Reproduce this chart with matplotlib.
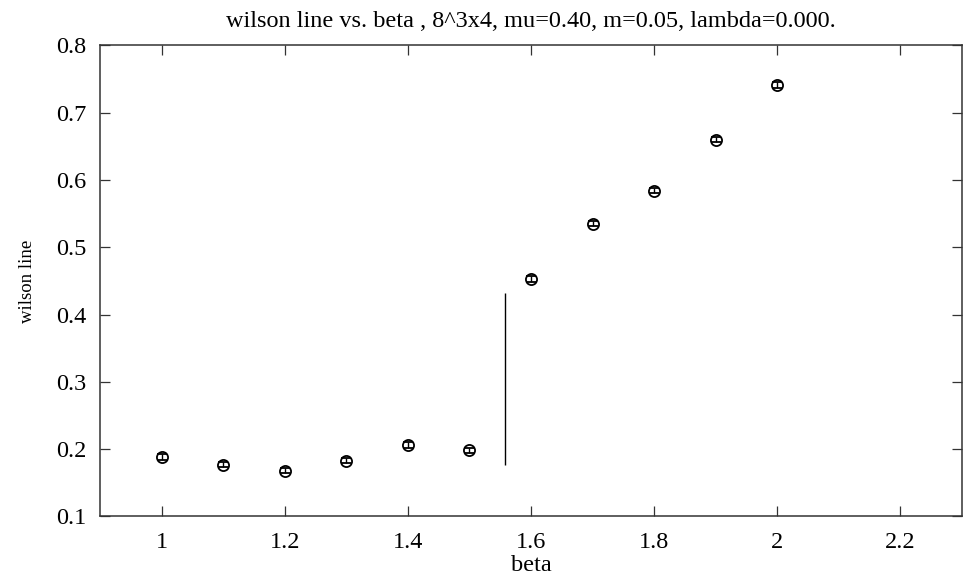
import matplotlib.pyplot as plt
from matplotlib.ticker import FormatStrFormatter, FuncFormatter

plt.rcParams['font.family'] = ['Liberation Serif', 'DejaVu Serif']

# data
beta = [1.0, 1.1, 1.2, 1.3, 1.4, 1.5, 1.6, 1.7, 1.8, 1.9, 2.0]
wilson = [0.188, 0.177, 0.168, 0.183, 0.206, 0.198, 0.453, 0.535, 0.584, 0.660, 0.741]
wilson_err = [0.004, 0.004, 0.004, 0.004, 0.004, 0.004, 0.004, 0.004, 0.004, 0.004, 0.004]

# the odd point near beta=1.55 (only its error bar shows)
beta_mid = [1.557]
wilson_mid = [0.304]
wilson_mid_err = [0.128]

fig = plt.figure(figsize=(9.66, 5.83), dpi=100)
ax = fig.add_axes([0.1035, 0.1143, 0.8924, 0.8077])

ax.errorbar(beta, wilson, yerr=wilson_err, fmt='o', color='black',
            mfc='none', mec='black', ms=8, mew=1.3, elinewidth=1.0, capsize=3.5)
ax.errorbar(beta_mid, wilson_mid, yerr=wilson_mid_err, fmt='none',
            ecolor='black', elinewidth=1.0, capsize=0)

ax.set_xlim(0.9, 2.3)
ax.set_ylim(0.1, 0.8)
ax.set_xticks([1.0, 1.2, 1.4, 1.6, 1.8, 2.0, 2.2])
ax.set_yticks([0.1, 0.2, 0.3, 0.4, 0.5, 0.6, 0.7, 0.8])
ax.xaxis.set_major_formatter(FuncFormatter(lambda v, p: '%g' % round(v, 3)))
ax.yaxis.set_major_formatter(FormatStrFormatter('%.1f'))
ax.tick_params(direction='in', length=7, width=0.9, top=True, right=True,
               labelsize=17.5, colors='#333333', labelcolor='black')
ax.tick_params(axis='x', pad=11)
ax.tick_params(axis='y', pad=10)
for s in ax.spines.values():
    s.set_linewidth(1.1)
    s.set_color('#333333')

fig.text(0.55, 1 - 27 / 583, "wilson line vs. beta , 8^3x4, mu=0.40, m=0.05, lambda=0.000.",
         fontsize=17.5, ha='center', va='baseline')
ax.set_xlabel("beta", fontsize=17.5, labelpad=2)
ax.set_ylabel("wilson line", fontsize=13.5)
ax.yaxis.set_label_coords(-0.074, 0.5)

plt.savefig("out.png", dpi=100)
